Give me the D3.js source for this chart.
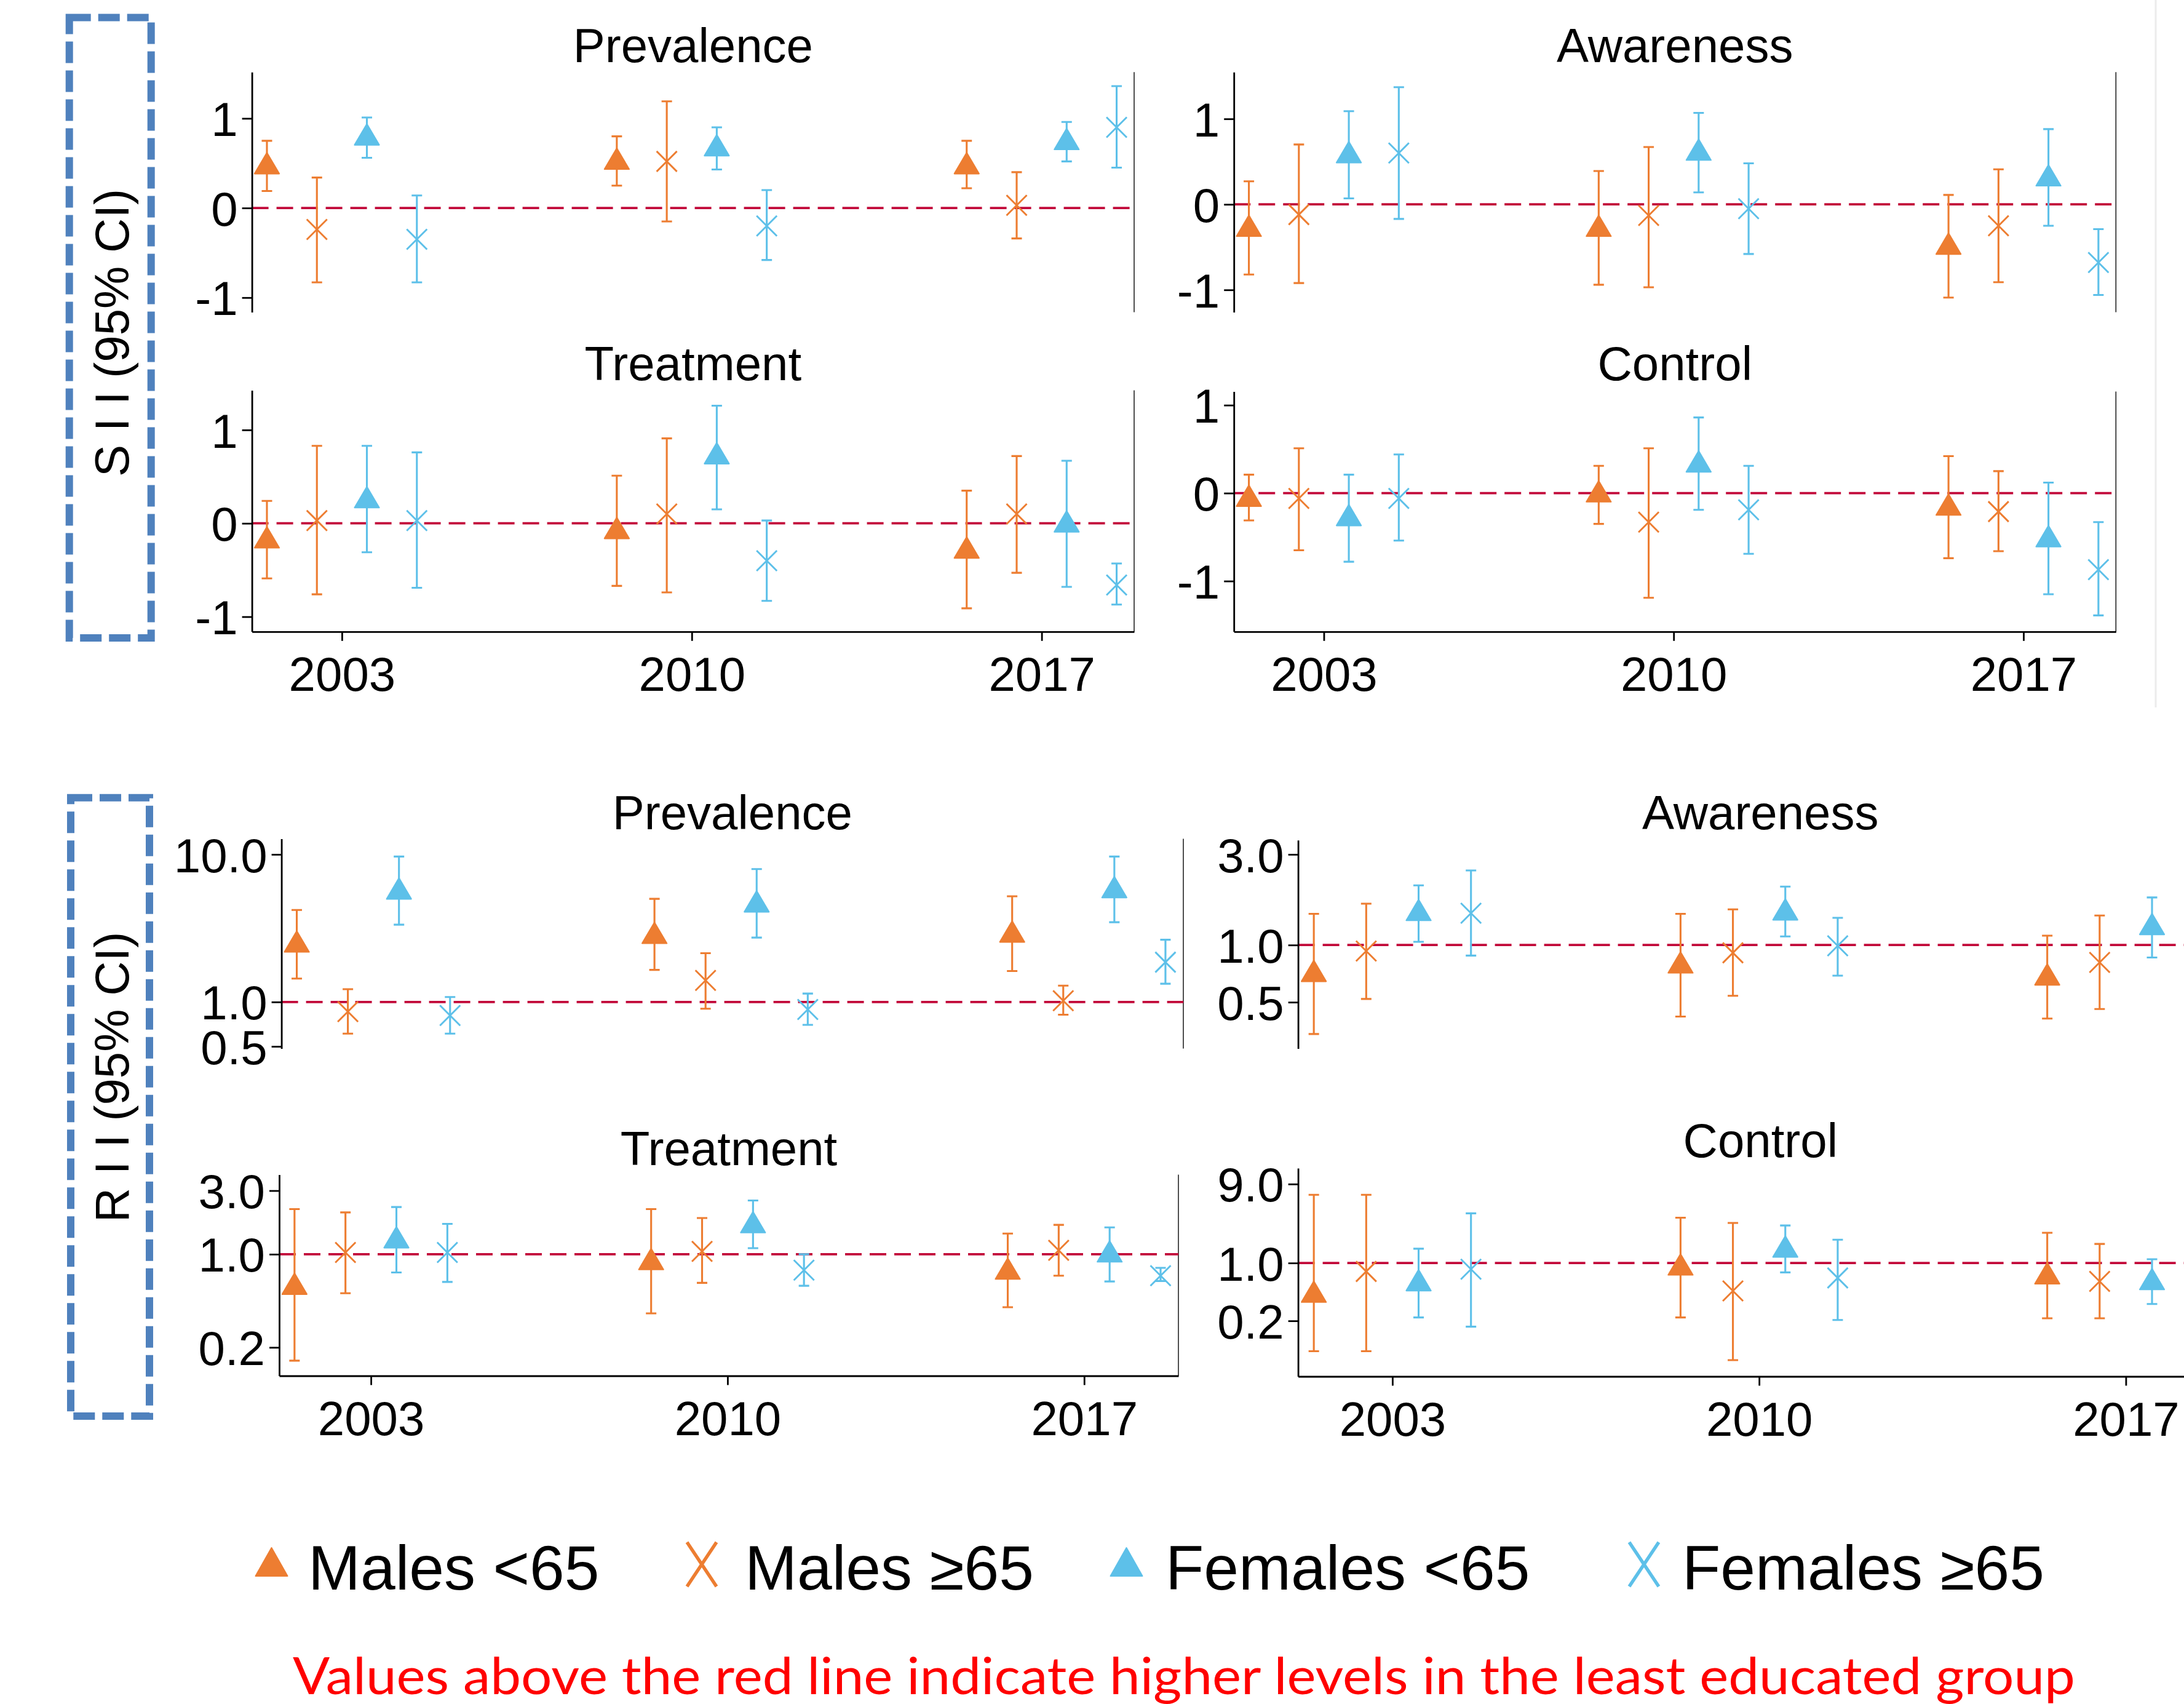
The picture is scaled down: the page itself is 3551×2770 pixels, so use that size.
<!DOCTYPE html>
<html>
<head>
<meta charset="utf-8">
<script src="https://cdn.jsdelivr.net/npm/d3@7/dist/d3.min.js"></script>
<style>
    html, body { margin: 0; padding: 0; background: #fff; }
    svg { display: block; }
</style>
</head>
<body>
<svg id="chart" width="3551" height="2770"></svg>
<script>
// Survey years and groups
var years = [2003, 2010, 2017];
var groups = ['Males <65', 'Males \u226565', 'Females <65', 'Females \u226565'];
var groupColors = ['#ed7d31', '#ed7d31', '#5dc0e9', '#5dc0e9'];
var groupShapes = ['triangle', 'x', 'triangle', 'x'];

// [estimate, lower, upper], year by year, groups in the order above
var siiPrevalence = [
    [0.50, 0.19, 0.75], [-0.24, -0.83, 0.34], [0.82, 0.56, 1.01], [-0.35, -0.83, 0.14],
    [0.55, 0.25, 0.80], [0.52, -0.15, 1.19], [0.70, 0.43, 0.90], [-0.20, -0.58, 0.20],
    [0.50, 0.22, 0.75], [0.03, -0.34, 0.40], [0.77, 0.52, 0.96], [0.90, 0.45, 1.36]
];
var siiTreatment = [
    [-0.15, -0.59, 0.24], [0.03, -0.76, 0.83], [0.28, -0.31, 0.83], [0.03, -0.69, 0.76],
    [-0.05, -0.67, 0.51], [0.10, -0.74, 0.91], [0.75, 0.15, 1.26], [-0.40, -0.83, 0.03],
    [-0.26, -0.91, 0.35], [0.10, -0.53, 0.72], [0.02, -0.68, 0.67], [-0.66, -0.87, -0.43]
];
var siiAwareness = [
    [-0.25, -0.82, 0.27], [-0.12, -0.92, 0.70], [0.61, 0.07, 1.09], [0.60, -0.17, 1.37],
    [-0.25, -0.94, 0.39], [-0.13, -0.97, 0.67], [0.64, 0.14, 1.07], [-0.05, -0.58, 0.48],
    [-0.46, -1.09, 0.11], [-0.25, -0.91, 0.41], [0.34, -0.25, 0.88], [-0.68, -1.06, -0.29]
];
var siiControl = [
    [-0.03, -0.31, 0.21], [-0.06, -0.65, 0.51], [-0.25, -0.78, 0.21], [-0.06, -0.54, 0.44],
    [0.02, -0.35, 0.31], [-0.33, -1.19, 0.51], [0.36, -0.19, 0.86], [-0.19, -0.69, 0.31],
    [-0.13, -0.74, 0.42], [-0.21, -0.66, 0.25], [-0.49, -1.15, 0.12], [-0.87, -1.39, -0.33]
];
var riiPrevalence = [
    [2.57, 1.44, 4.20], [0.86, 0.61, 1.22], [5.87, 3.34, 9.67], [0.81, 0.61, 1.08],
    [2.94, 1.65, 5.00], [1.40, 0.90, 2.14], [4.80, 2.73, 7.95], [0.89, 0.70, 1.14],
    [3.00, 1.62, 5.20], [1.02, 0.82, 1.29], [6.00, 3.47, 9.67], [1.86, 1.33, 2.64]
];
var riiTreatment = [
    [0.60, 0.159, 2.18], [1.03, 0.51, 2.06], [1.34, 0.73, 2.26], [1.03, 0.62, 1.69],
    [0.92, 0.36, 2.18], [1.05, 0.61, 1.87], [1.74, 1.11, 2.53], [0.76, 0.58, 1.00],
    [0.78, 0.40, 1.43], [1.07, 0.69, 1.66], [1.05, 0.625, 1.59], [0.69, 0.63, 0.79]
];
var riiAwareness = [
    [0.73, 0.34, 1.46], [0.93, 0.52, 1.65], [1.53, 1.04, 2.06], [1.47, 0.88, 2.47],
    [0.81, 0.42, 1.46], [0.91, 0.54, 1.54], [1.54, 1.11, 2.03], [0.99, 0.69, 1.39],
    [0.70, 0.41, 1.12], [0.81, 0.46, 1.43], [1.29, 0.86, 1.78], [0.60, 0.45, 0.80]
];
var riiControl = [
    [0.45, 0.086, 6.67], [0.79, 0.086, 6.67], [0.62, 0.22, 1.49], [0.84, 0.17, 3.98],
    [0.96, 0.22, 3.53], [0.46, 0.067, 3.05], [1.58, 0.77, 2.84], [0.66, 0.205, 1.91],
    [0.75, 0.215, 2.32], [0.60, 0.215, 1.70], [0.64, 0.32, 1.11], [0.45, 0.25, 0.80]
];

// Axis ticks
var siiTicks = [-1, 0, 1];
var riiPrevalenceTicks = [0.5, 1, 10];
var riiTreatmentTicks = [0.2, 1, 3];
var riiAwarenessTicks = [0.5, 1, 3];
var riiControlTicks = [0.2, 1, 9];

var FONT = '"Liberation Sans", Arial, sans-serif';
var RED = '#c20a3a';
var dodge = [-1.5, -0.5, 0.5, 1.5];
var yearDomain = [2001.2, 2018.85];

var svg = d3.select('#chart');

var siiFmt = function(d) { return String(d); };
var riiFmt = d3.format('.1f');

var panels = [
    {title: 'Prevalence', data: siiPrevalence, ticks: siiTicks, fmt: siiFmt, log: false, ref: 0,
        x0: 409.6, x1: 1844, y0: 117.3, y1: 507.5, dom: [-1.163, 1.516], titleY: 101, xAxis: false},
    {title: 'Treatment', data: siiTreatment, ticks: siiTicks, fmt: siiFmt, log: false, ref: 0,
        x0: 409.6, x1: 1844, y0: 634.4, y1: 1026.8, dom: [-1.160, 1.425], titleY: 617.5, xAxis: true},
    {title: 'Awareness', data: siiAwareness, ticks: siiTicks, fmt: siiFmt, log: false, ref: 0,
        x0: 2006.2, x1: 3440.3, y0: 117.3, y1: 507.5, dom: [-1.261, 1.546], titleY: 101, xAxis: false},
    {title: 'Control', data: siiControl, ticks: siiTicks, fmt: siiFmt, log: false, ref: 0,
        x0: 2006.2, x1: 3440.3, y0: 636.6, y1: 1026.8, dom: [-1.575, 1.154], titleY: 617.5, xAxis: true},
    {title: 'Prevalence', data: riiPrevalence, ticks: riiPrevalenceTicks, fmt: riiFmt, log: true, ref: 1,
        x0: 457.6, x1: 1924, y0: 1363.6, y1: 1704.6, dom: [0.483, 12.75], titleY: 1348, xAxis: false},
    {title: 'Treatment', data: riiTreatment, ticks: riiTreatmentTicks, fmt: riiFmt, log: true, ref: 1,
        x0: 454, x1: 1916, y0: 1909.4, y1: 2236.5, dom: [0.1224, 3.958], titleY: 1894, xAxis: true},
    {title: 'Awareness', data: riiAwareness, ticks: riiAwarenessTicks, fmt: riiFmt, log: true, ref: 1,
        x0: 2110.6, x1: 3614, y0: 1365.7, y1: 1704.6, dom: [0.2848, 3.567], titleY: 1348, xAxis: false},
    {title: 'Control', data: riiControl, ticks: riiControlTicks, fmt: riiFmt, log: true, ref: 1,
        x0: 2110.6, x1: 3614, y0: 1898.9, y1: 2237.5, dom: [0.0426, 14.01], titleY: 1881, xAxis: true}
];

function styleAxis(g) {
    g.attr('font-family', FONT).attr('font-size', 78);
    g.selectAll('path, line').attr('stroke', '#000').attr('stroke-width', 2.8);
    g.selectAll('text').attr('fill', '#000');
}

function drawMarker(g, shape, color, cx, cy) {
    if (shape == 'triangle') {
        g.append('path')
            .attr('d', 'M0,-17L20,17L-20,17Z')
            .attr('transform', 'translate(' + cx + ',' + cy + ')')
            .attr('fill', color)
            .attr('stroke', color)
            .attr('stroke-width', 2.2)
            .attr('stroke-linejoin', 'round');
    } else {
        var s = 16.5;
        g.append('path')
            .attr('d', 'M' + (-s) + ',' + (-s) + 'L' + s + ',' + s + 'M' + s + ',' + (-s) + 'L' + (-s) + ',' + s)
            .attr('transform', 'translate(' + cx + ',' + cy + ')')
            .attr('fill', 'none')
            .attr('stroke', color)
            .attr('stroke-width', 2.9);
    }
}

function drawPanel(p) {
    var g = svg.append('g');
    var x = d3.scaleLinear().domain(yearDomain).range([p.x0, p.x1]);
    var y = (p.log ? d3.scaleLog() : d3.scaleLinear()).domain(p.dom).range([p.y1, p.y0]);

    g.append('text')
        .attr('x', (p.x0 + p.x1) / 2)
        .attr('y', p.titleY)
        .attr('text-anchor', 'middle')
        .attr('font-family', FONT)
        .attr('font-size', 78)
        .text(p.title);

    // thin right frame line
    g.append('line')
        .attr('x1', p.x1).attr('x2', p.x1)
        .attr('y1', p.y0).attr('y2', p.y1)
        .attr('stroke', '#222').attr('stroke-width', 1.6);

    g.append('line')
        .attr('x1', p.x0).attr('x2', p.x1)
        .attr('y1', y(p.ref)).attr('y2', y(p.ref))
        .attr('stroke', RED)
        .attr('stroke-width', 3.8)
        .attr('stroke-dasharray', '27,13');

    var marks = g.append('g');
    years.forEach(function(yr, i) {
        groups.forEach(function(grp, j) {
            var row = p.data[i * 4 + j];
            var cx = x(yr + dodge[j]);
            var color = groupColors[j];
            var yl = y(row[1]), yh = y(row[2]);
            marks.append('path')
                .attr('d', 'M' + cx + ',' + yl + 'V' + yh +
                    'M' + (cx - 8.5) + ',' + yl + 'H' + (cx + 8.5) +
                    'M' + (cx - 8.5) + ',' + yh + 'H' + (cx + 8.5))
                .attr('fill', 'none')
                .attr('stroke', color)
                .attr('stroke-width', 3.1);
            drawMarker(marks, groupShapes[j], color, cx, y(row[0]));
        });
    });

    var ya = d3.axisLeft(y).tickValues(p.ticks).tickFormat(p.fmt)
        .tickSize(16).tickSizeOuter(0).tickPadding(7);
    var yg = g.append('g').attr('transform', 'translate(' + p.x0 + ',0)').call(ya);
    styleAxis(yg);
    yg.selectAll('text').attr('dy', '0.36em');

    if (p.xAxis) {
        var xa = d3.axisBottom(x).tickValues(years).tickFormat(d3.format('d'))
            .tickSize(15).tickSizeOuter(0).tickPadding(26);
        var xg = g.append('g').attr('transform', 'translate(0,' + p.y1 + ')').call(xa);
        styleAxis(xg);
    }
}

panels.forEach(drawPanel);

// dashed boxes holding the rotated y labels
var boxes = [
    {label: 'S I I (95% CI)', x0: 112.7, x1: 245.7, y0: 28.5, y1: 1037, cy: 541},
    {label: 'R I I (95% CI)', x0: 115, x1: 243, y0: 1296.7, y1: 2302, cy: 1751}
];
boxes.forEach(function(b) {
    svg.append('rect')
        .attr('x', b.x0).attr('y', b.y0)
        .attr('width', b.x1 - b.x0).attr('height', b.y1 - b.y0)
        .attr('fill', 'none')
        .attr('stroke', '#4f81bd')
        .attr('stroke-width', 12)
        .attr('stroke-dasharray', '35,12');
    svg.append('text')
        .attr('transform', 'translate(209,' + b.cy + ') rotate(-90)')
        .attr('text-anchor', 'middle')
        .attr('font-family', FONT)
        .attr('font-size', 78)
        .text(b.label);
});

// faint edge line at the far right
svg.append('line')
    .attr('x1', 3505).attr('x2', 3505).attr('y1', 0).attr('y2', 1150)
    .attr('stroke', '#ececec').attr('stroke-width', 3);

// legend
var legendX = [441.5, 1141, 1831.5, 2673];
var legendTextX = [501, 1211, 1895, 2735];
var legend = svg.append('g');
groups.forEach(function(grp, j) {
    var cx = legendX[j];
    if (groupShapes[j] == 'triangle') {
        legend.append('path')
            .attr('d', 'M0,-23L26,23L-26,23Z')
            .attr('transform', 'translate(' + cx + ',2539)')
            .attr('fill', groupColors[j])
            .attr('stroke', groupColors[j])
            .attr('stroke-width', 2)
            .attr('stroke-linejoin', 'round');
    } else {
        legend.append('path')
            .attr('d', 'M-24,-36L24,36M24,-36L-24,36')
            .attr('transform', 'translate(' + cx + ',2543)')
            .attr('fill', 'none')
            .attr('stroke', groupColors[j])
            .attr('stroke-width', 5.5);
    }
    legend.append('text')
        .attr('x', legendTextX[j])
        .attr('y', 2584)
        .attr('font-family', FONT)
        .attr('font-size', 102)
        .text(grp);
});

svg.append('text')
    .attr('x', 476)
    .attr('y', 2754)
    .attr('font-family', 'Lato, "Open Sans", sans-serif')
    .attr('font-size', 84)
    .attr('fill', '#ff0000')
    .attr('textLength', 2898)
    .attr('lengthAdjust', 'spacingAndGlyphs')
    .text('Values above the red line indicate higher levels in the least educated group');
</script>
</body>
</html>
